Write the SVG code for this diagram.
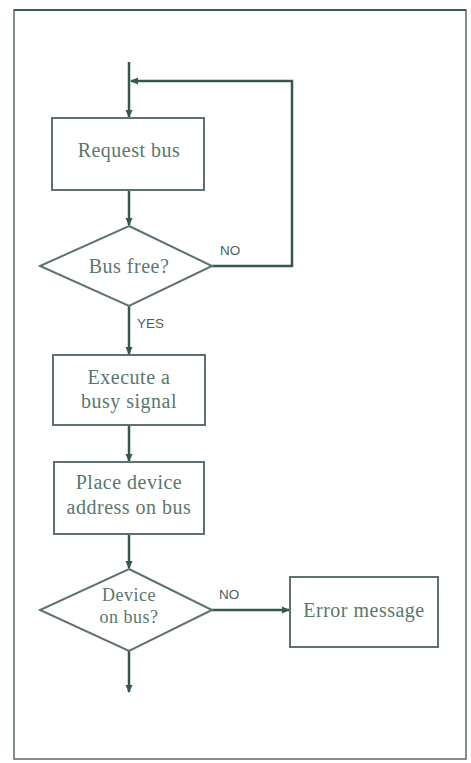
<svg xmlns="http://www.w3.org/2000/svg" width="471" height="763" viewBox="0 0 471 763">
<style>
.box{fill:#fff;stroke:#5f7269;stroke-width:2}
.lbl{font-family:"Liberation Serif","Times New Roman",serif;font-size:20px;letter-spacing:0.5px;fill:#5b766c;text-anchor:middle}
.sm{font-size:18px}
.yn{font-family:"Liberation Sans",Arial,sans-serif;font-size:13.5px;fill:#4a5f57}
.con{fill:none;stroke:#35584b;stroke-width:2.5}
</style>
<defs>
<marker id="ah" markerWidth="8" markerHeight="8" refX="7" refY="4" orient="auto" markerUnits="userSpaceOnUse">
<path d="M0,0.5 L8,4 L0,7.5 Z" fill="#35584b"/>
</marker>
</defs>
<rect x="0" y="0" width="471" height="763" fill="#fff"/>
<rect x="14" y="10" width="452" height="749" fill="none" stroke="#5a6d64" stroke-width="1.5"/>
<line x1="14" y1="10" x2="466" y2="10" stroke="#3a5a4c" stroke-width="2"/>
<g id="connectors">
<line class="con" x1="129" y1="62" x2="129" y2="117" marker-end="url(#ah)"/>
<polyline class="con" points="212,266 292,266 292,81 131,81" marker-end="url(#ah)"/>
<line class="con" x1="129" y1="190" x2="129" y2="225" marker-end="url(#ah)"/>
<line class="con" x1="129" y1="306" x2="129" y2="354" marker-end="url(#ah)"/>
<line class="con" x1="129" y1="425" x2="129" y2="461" marker-end="url(#ah)"/>
<line class="con" x1="129" y1="534" x2="129" y2="568" marker-end="url(#ah)"/>
<line class="con" x1="212" y1="610" x2="289" y2="610" marker-end="url(#ah)"/>
<line class="con" x1="129" y1="651" x2="129" y2="692" marker-end="url(#ah)"/>
<text class="yn" x="220" y="255">NO</text>
<text class="yn" x="137" y="328">YES</text>
<text class="yn" x="219" y="599">NO</text>
</g>
<g id="request">
<rect class="box" x="52" y="118" width="152" height="72"/>
<text class="lbl" x="129" y="157">Request bus</text>
</g>
<g id="busfree">
<polygon class="box" points="129,226 212,266 129,306 40,266"/>
<text class="lbl" x="129" y="273">Bus free?</text>
</g>
<g id="execute">
<rect class="box" x="53" y="355" width="152" height="70"/>
<text class="lbl" x="129" y="384">Execute a</text>
<text class="lbl" x="129" y="408">busy signal</text>
</g>
<g id="place">
<rect class="box" x="54" y="462" width="150" height="72"/>
<text class="lbl" x="129" y="489">Place device</text>
<text class="lbl" x="129" y="514">address on bus</text>
</g>
<g id="deviceonbus">
<polygon class="box" points="129,569 212,610 129,651 40,610"/>
<text class="lbl sm" x="129" y="601">Device</text>
<text class="lbl sm" x="129" y="623">on bus?</text>
</g>
<g id="error">
<rect class="box" x="290" y="577" width="148" height="70"/>
<text class="lbl" x="364" y="617">Error message</text>
</g>
</svg>
